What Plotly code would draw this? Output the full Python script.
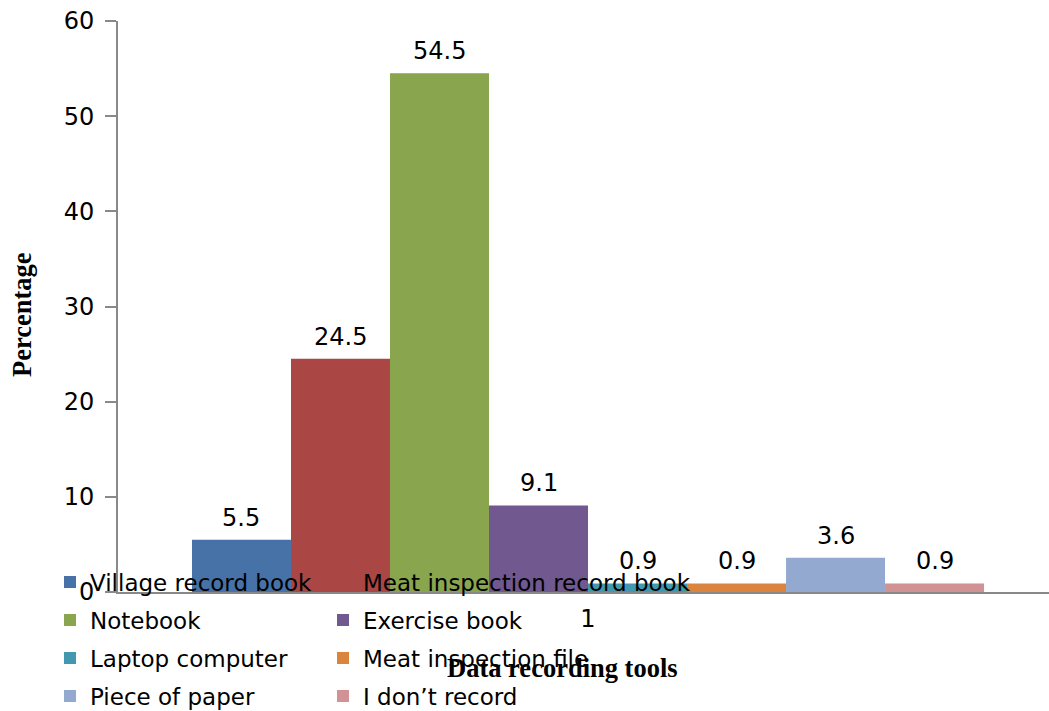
import plotly.graph_objects as go

# Survey data: tools used for recording data (percentage of respondents)
categories = ["1"]
tools = [
    "Village record book",
    "Meat inspection record book",
    "Notebook",
    "Exercise book",
    "Laptop computer",
    "Meat inspection file",
    "Piece of paper",
    "I don\u2019t record",
]
percentages = [5.5, 24.5, 54.5, 9.1, 0.9, 0.9, 3.6, 0.9]
colors = ["#4672A8", "#AA4644", "#89A54E", "#71588F",
          "#4198AF", "#DB843D", "#93A9CF", "#D09292"]
y_ticks = [0, 10, 20, 30, 40, 50, 60]

FONT = "DejaVu Sans"
SERIF = "Liberation Serif"
W, H = 1049, 711
ML, MR, MT, MB = 118, 0, 21, 119
PW, PH = W - ML - MR, H - MT - MB


def px_to_paper(px, py):
    return (px - ML) / PW, (H - MB - py) / PH


GROUP_WIDTH = 0.8426
n = len(tools)
bar_w = GROUP_WIDTH / n

fig = go.Figure()
annotations = []
for i, (name, val, col) in enumerate(zip(tools, percentages, colors)):
    off = -GROUP_WIDTH / 2 + i * bar_w
    fig.add_trace(go.Bar(
        x=[0], y=[val], name=name,
        marker=dict(color=col, line=dict(width=0)),
        width=bar_w, offset=off,
        legend="legend" if i < 2 else f"legend{i // 2 + 1}",
        # left column entries have a fixed width; right column gets room for long names
        legendwidth=228 if i % 2 == 0 else 380,
    ))
    annotations.append(dict(
        x=off + bar_w / 2, y=val, xref="x", yref="y",
        text=f"{val:g}", showarrow=False, yanchor="bottom", yshift=6,
        font=dict(family=FONT, size=24, color="#000000"),
    ))

# axis titles
tx, ty = px_to_paper(562, 668)
annotations.append(dict(
    x=tx, y=ty, xref="paper", yref="paper", text="<b>Data recording tools</b>",
    showarrow=False, xanchor="center", yanchor="middle",
    font=dict(family=SERIF, size=26.5, color="#000000"),
))
tx, ty = px_to_paper(22, 315)
annotations.append(dict(
    x=tx, y=ty, xref="paper", yref="paper",
    text="<b>Percentage</b>", textangle=-90, showarrow=False,
    xanchor="center", yanchor="middle",
    font=dict(family=SERIF, size=26.5, color="#000000"),
))

legend_rows_px = [582, 620, 658, 696]
legend_style = {}
for r, py in enumerate(legend_rows_px):
    key = "legend" if r == 0 else f"legend{r + 1}"
    legend_style[key] = dict(
        orientation="h", xref="container", yref="container",
        x=50 / W, y=(H - py) / H, xanchor="left", yanchor="middle",
        entrywidthmode="pixels",
        bgcolor="rgba(0,0,0,0)", borderwidth=0,
        font=dict(family=FONT, size=23, color="#000000"),
        itemclick=False, itemdoubleclick=False,
    )

fig.update_layout(
    width=W, height=H,
    margin=dict(l=ML, r=MR, t=MT, b=MB, autoexpand=False),
    paper_bgcolor="white", plot_bgcolor="white",
    barmode="overlay",
    showlegend=True,
    annotations=annotations,
    xaxis=dict(
        range=[-0.5, 0.4904], tickvals=[0], ticktext=categories,
        showgrid=False, zeroline=False, showline=True,
        linecolor="#898989", linewidth=2, ticks="",
        tickfont=dict(family=FONT, size=24, color="#000000"),
        ticklabelstandoff=4,
    ),
    yaxis=dict(
        range=[0, 60], tickvals=y_ticks,
        showgrid=False, zeroline=False, showline=True,
        linecolor="#898989", linewidth=2,
        ticks="outside", ticklen=11, tickwidth=2, tickcolor="#898989",
        tickfont=dict(family=FONT, size=24, color="#000000"),
        ticklabelstandoff=6,
    ),
    **legend_style,
)

fig.write_html("out.html")
